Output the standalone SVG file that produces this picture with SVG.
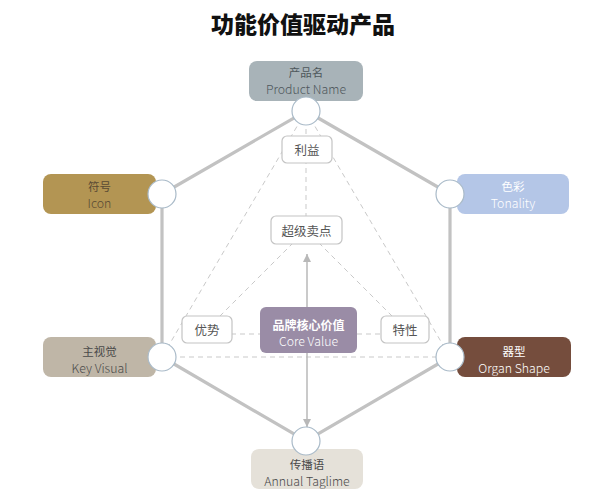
<svg xmlns="http://www.w3.org/2000/svg" width="612" height="497" viewBox="0 0 612 497">
<defs>
<style>
text{font-family:"Noto Sans CJK SC","Noto Sans",sans-serif;text-anchor:middle;dominant-baseline:central}
.title{font-size:23px;font-weight:900;fill:#111}
.edge{stroke:#c2c2c2;stroke-width:3.2;fill:none;stroke-linecap:round}
.dash{stroke:#c9c9c9;stroke-width:1;stroke-dasharray:5 4;fill:none}
.arrow{stroke:#b8b8b8;stroke-width:1.5;fill:none}
.hub{fill:#fff;stroke:#a9bac8;stroke-width:1.2}
.inner rect{fill:#fff;stroke:#c4c4c4;stroke-width:1.2}
.inner text{font-size:12.5px;fill:#555}
.cn{font-size:11.5px}
.en{font-size:12.3px;font-weight:300}
</style>
<marker id="ah" viewBox="0 0 10 10" refX="10" refY="5" markerWidth="8" markerHeight="8" markerUnits="userSpaceOnUse" orient="auto">
<path d="M0,0 L10,5 L0,10 z" fill="#b8b8b8"/>
</marker>
</defs>
<rect width="612" height="497" fill="#fff"/>
<text class="title" x="303" y="23">功能价值驱动产品</text>
<g id="connectors">
<polygon class="edge" points="306,111 450,194 450,357 306,441 162,357 162,194"/>
<line class="dash" x1="306" y1="111" x2="162" y2="357"/>
<line class="dash" x1="306" y1="111" x2="450" y2="357"/>
<line class="dash" x1="306" y1="111" x2="306" y2="150"/>
<line class="dash" x1="306" y1="150" x2="306" y2="230"/>
<line class="dash" x1="306" y1="230" x2="207" y2="329"/>
<line class="dash" x1="306" y1="230" x2="405" y2="329"/>
<line class="dash" x1="231" y1="334" x2="381" y2="334"/>
<line class="dash" x1="162" y1="357" x2="450" y2="357"/>
<line class="arrow" x1="307" y1="307" x2="307" y2="254" marker-end="url(#ah)"/>
<line class="arrow" x1="307" y1="353" x2="307" y2="427" marker-end="url(#ah)"/>
</g>
<g id="product-name">
<rect x="249" y="61" width="114" height="40" rx="8" fill="#a8b3b8"/>
<text class="cn" x="306" y="71.5" fill="#4e575b">产品名</text>
<text class="en" x="306" y="89" fill="#4e575b">Product Name</text>
</g>
<g id="icon">
<rect x="43" y="174" width="113" height="40" rx="8" fill="#b39553"/>
<text class="cn" x="99.5" y="185.5" fill="#5a4b33">符号</text>
<text class="en" x="99.5" y="203" fill="#5a4b33">Icon</text>
</g>
<g id="tonality">
<rect x="457" y="174" width="112" height="40" rx="8" fill="#b4c6e7"/>
<text class="cn" x="513" y="186" fill="#fff">色彩</text>
<text class="en" x="513" y="203" fill="#fff">Tonality</text>
</g>
<g id="key-visual">
<rect x="43" y="337" width="113" height="40" rx="8" fill="#bfb6a7"/>
<text class="cn" x="99.5" y="351" fill="#4a4a4a">主视觉</text>
<text class="en" x="99.5" y="368" fill="#4a4a4a">Key Visual</text>
</g>
<g id="organ-shape">
<rect x="457" y="337" width="114" height="40" rx="8" fill="#754d3d"/>
<text class="cn" x="514" y="350.5" fill="#fff">器型</text>
<text class="en" x="514" y="367.5" fill="#fff">Organ Shape</text>
</g>
<g id="taglime">
<rect x="251" y="449" width="112" height="40" rx="8" fill="#e5e1d9"/>
<text class="cn" x="307" y="464" fill="#4a4a4a">传播语</text>
<text class="en" x="307" y="481" fill="#4a4a4a">Annual Taglime</text>
</g>
<g id="hubs">
<circle class="hub" cx="306" cy="111" r="14"/>
<circle class="hub" cx="162" cy="194" r="14"/>
<circle class="hub" cx="450" cy="194" r="14"/>
<circle class="hub" cx="162" cy="357" r="14"/>
<circle class="hub" cx="450" cy="357" r="14"/>
<circle class="hub" cx="306" cy="441" r="14"/>
</g>
<g id="benefit" class="inner">
<rect x="282" y="136" width="50" height="27" rx="5"/>
<text x="307" y="149.5">利益</text>
</g>
<g id="selling-point" class="inner">
<rect x="271" y="216" width="71" height="28" rx="5"/>
<text x="306.5" y="230">超级卖点</text>
</g>
<g id="advantage" class="inner">
<rect x="182" y="316" width="50" height="27" rx="5"/>
<text x="207" y="329.5">优势</text>
</g>
<g id="feature" class="inner">
<rect x="381" y="316" width="48" height="27" rx="5"/>
<text x="405" y="329.5">特性</text>
</g>
<g id="core-value">
<rect x="260" y="307" width="97" height="46" rx="6" fill="#9a8ca6"/>
<text x="308.5" y="324" fill="#fff" font-size="12" font-weight="bold">品牌核心价值</text>
<text x="308.5" y="341" fill="#fff" font-size="12.3" font-weight="300">Core Value</text>
</g>
</svg>
